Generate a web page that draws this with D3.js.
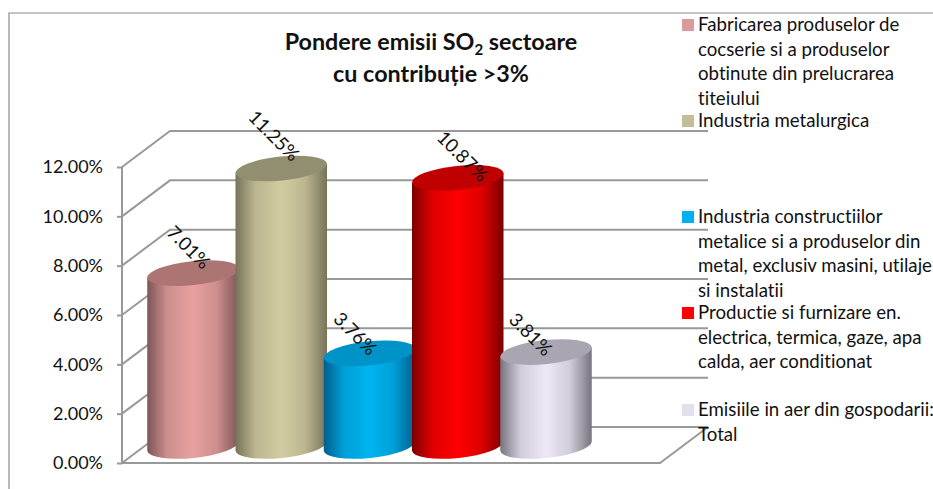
<!DOCTYPE html>
<html>
<head>
<meta charset="utf-8">
<script src="https://cdn.jsdelivr.net/npm/d3@7"></script>
<style>
  html, body { margin: 0; padding: 0; background: #fff; overflow: hidden; }
  svg { display: block; }
  text { font-family: Lato, "Open Sans", sans-serif; fill: #111; font-variant-ligatures: none; }
</style>
</head>
<body>
<div id="chart"></div>
<script>
// values
var categories = ["fabricare", "metalurgica", "constructii", "energie", "gospodarii"];
var values = [7.01, 11.25, 3.76, 10.87, 3.81];
var yTicks = [0, 2, 4, 6, 8, 10, 12];
var bodyEdge = ["#7d5656", "#77735a", "#005f8c", "#7a0000", "#77747f"];
var bodyLight = ["#e9a1a1", "#d2cca0", "#00b4f0", "#ff0000", "#efe9f7"];
var topColors = ["#ad7474", "#928e70", "#0093c8", "#c00000", "#a9a6b1"];
var swatchColors = ["#dc9a9a", "#c4bd97", "#00b0f0", "#ff0000", "#e3dfec"];
var titleLines = ["Pondere emisii SO", "cu contribuție >3%"];
var legendItems = [
  ["Fabricarea produselor de", "cocserie si a produselor", "obtinute din prelucrarea", "titeiului"],
  ["Industria metalurgica"],
  ["Industria constructiilor", "metalice si a produselor din", "metal, exclusiv masini, utilaje", "si instalatii"],
  ["Productie si furnizare en.", "electrica, termica, gaze, apa", "calda, aer conditionat"],
  ["Emisiile in aer din gospodarii:", "Total"]
];

var width = 933, height = 489;
var svg = d3.select("#chart").append("svg").attr("width", width).attr("height", height);

var y = d3.scaleLinear().domain([0, 12]).range([463, 167]);
var x = d3.scalePoint().domain(categories).range([193, 546]);

// chart geometry
var x0 = 122, x1 = 660, depthX = 48, depthY = -36;
var rx = 46, ry = 12, tilt = -6;
var baseLift = 17;
var gridColor = "#999";

// outer frame of the chart object
svg.append("path")
  .attr("d", "M9,489V13H933")
  .attr("fill", "none").attr("stroke", "#8c8c8c").attr("stroke-width", 1.2);

// back wall and left wall
var walls = svg.append("g").attr("fill", "none").attr("stroke", gridColor).attr("stroke-width", 2);
yTicks.forEach(function(t) {
  walls.append("path")
    .attr("d", d3.line()([[x0, y(t)], [x0 + depthX, y(t) + depthY], [x1 + depthX, y(t) + depthY]]));
});
walls.append("path").attr("d", d3.line()([[x0, y(0)], [x0, y(12)]]));
walls.append("path").attr("d", d3.line()([[x0, y(0)], [x1, y(0)], [x1 + depthX, y(0) + depthY]]));

// axis, ticks only on the left
var axis = svg.append("g")
  .attr("transform", "translate(" + x0 + ",0)")
  .call(d3.axisLeft(y).tickValues(yTicks).tickSize(5).tickPadding(14)
    .tickFormat(function(d) { return d.toFixed(2) + "%"; }));
axis.select(".domain").remove();
axis.selectAll("line").attr("stroke", gridColor).attr("stroke-width", 2);
axis.selectAll("text").style("font-size", "18px").attr("fill", "#111");

// cylinder shading
var defs = svg.append("defs");
categories.forEach(function(c, i) {
  var g = defs.append("linearGradient").attr("id", "cyl" + i);
  g.append("stop").attr("offset", "0%").attr("stop-color", bodyEdge[i]);
  g.append("stop").attr("offset", "22%").attr("stop-color", d3.interpolateRgb(bodyEdge[i], bodyLight[i])(0.75));
  g.append("stop").attr("offset", "50%").attr("stop-color", bodyLight[i]);
  g.append("stop").attr("offset", "76%").attr("stop-color", d3.interpolateRgb(bodyEdge[i], bodyLight[i])(0.75));
  g.append("stop").attr("offset", "100%").attr("stop-color", bodyEdge[i]);
});

var rad = tilt * Math.PI / 180;
var ex = rx * Math.cos(rad), ey = rx * Math.sin(rad);

var cyl = svg.selectAll("g.cyl").data(values).enter().append("g").attr("class", "cyl");
cyl.append("path")
  .attr("fill", function(d, i) { return "url(#cyl" + i + ")"; })
  .attr("d", function(d, i) {
    var cx = x(categories[i]), top = y(d) - baseLift, bot = y(0) - baseLift;
    return "M" + (cx - ex) + "," + (top - ey) +
      "L" + (cx - ex) + "," + (bot - ey) +
      "A" + rx + "," + ry + " " + tilt + " 0 0 " + (cx + ex) + "," + (bot + ey) +
      "L" + (cx + ex) + "," + (top + ey) + "Z";
  });
cyl.append("ellipse")
  .attr("rx", rx).attr("ry", ry)
  .attr("fill", function(d, i) { return topColors[i]; })
  .attr("transform", function(d, i) {
    return "translate(" + x(categories[i]) + "," + (y(d) - baseLift) + ") rotate(" + tilt + ")";
  });

// data labels, hand placed in the original
var labelNudge = [[-4, -43], [-7, -50], [-14, -37], [5, -39], [-15, -35]];
svg.selectAll("text.val").data(values).enter().append("text")
  .attr("class", "val")
  .attr("text-anchor", "middle")
  .attr("dominant-baseline", "central")
  .style("font-size", "18.67px")
  .attr("transform", function(d, i) {
    return "translate(" + (x(categories[i]) + labelNudge[i][0]) + "," + (y(d) + labelNudge[i][1]) + ") rotate(45)";
  })
  .text(function(d) { return d.toFixed(2) + "%"; });

// title
var title = svg.append("g").attr("text-anchor", "middle")
  .style("font-size", "23.3px").style("font-weight", "bold");
var t1 = title.append("text").attr("x", 431).attr("y", 50);
t1.append("tspan").text(titleLines[0]);
t1.append("tspan").attr("dy", 5).style("font-size", "15px").text("2");
t1.append("tspan").attr("dy", -5).text(" sectoare");
title.append("text").attr("x", 431).attr("y", 82).text(titleLines[1]);

// legend
var legendY = [31, 127, 223, 319, 416];
var lineH = 24.5;
var legend = svg.selectAll("g.leg").data(legendItems).enter().append("g").attr("class", "leg");
legend.append("rect")
  .attr("x", 682).attr("width", 12).attr("height", 12)
  .attr("y", function(d, i) { return legendY[i] - 12; })
  .attr("fill", function(d, i) { return swatchColors[i]; });
legend.each(function(d, i) {
  d3.select(this).selectAll("text").data(d).enter().append("text")
    .attr("x", 698)
    .attr("y", function(s, j) { return legendY[i] + j * lineH; })
    .style("font-size", "18.67px")
    .text(function(s) { return s; });
});
</script>
</body>
</html>
